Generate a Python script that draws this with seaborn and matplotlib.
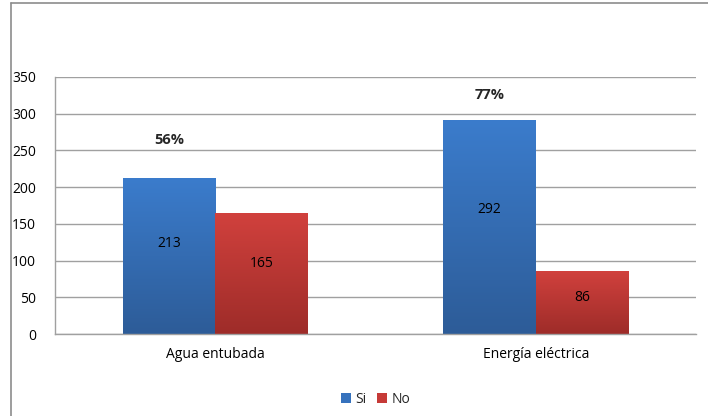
import numpy as np
import pandas as pd
import seaborn as sns
import matplotlib.pyplot as plt
from matplotlib.lines import Line2D
from matplotlib.colors import LinearSegmentedColormap

# -------- Data -------- #
servicios = ["Agua entubada", "Energía eléctrica"]
respuestas = ["Si", "No"]
si_values = [213, 292]
no_values = [165, 86]
porcentajes = ["56%", "77%"]
y_ticks = [0, 50, 100, 150, 200, 250, 300, 350]

df = pd.DataFrame({
    "servicio": servicios * 2,
    "respuesta": ["Si"] * len(servicios) + ["No"] * len(servicios),
    "viviendas": si_values + no_values,
})

# -------- Plot -------- #
sns.set_theme(style="white")
plt.rcParams["font.family"] = ["Open Sans", "DejaVu Sans"]

fig = plt.figure(figsize=(7.08, 4.16), dpi=100)
ax = fig.add_axes([0.078, 0.197, 0.905, 0.618])

colors = {"Si": "#3672BD", "No": "#C63A37"}
sns.barplot(data=df, x="servicio", y="viviendas", hue="respuesta",
            hue_order=respuestas, palette=colors, width=0.58,
            saturation=1, linewidth=0, ax=ax, legend=True)

ax.set_ylim(0, 350)
ax.set_xlim(-0.5, 1.5)
ax.set_yticks(y_ticks)
ax.yaxis.grid(True, color="#A0A0A0", linewidth=1)
ax.set_axisbelow(True)
ax.set_xlabel("")
ax.set_ylabel("")
ax.tick_params(axis="both", length=0, labelsize=10, colors="black")
ax.tick_params(axis="y", pad=14)
ax.tick_params(axis="x", pad=9)
for side in ["top", "right"]:
    ax.spines[side].set_visible(False)
for side in ["left", "bottom"]:
    ax.spines[side].set_color("#A0A0A0")
    ax.spines[side].set_linewidth(1)

# vertical gradient fill, lighter at the top like the original
gradients = [("#3B7CCC", "#2D5C98"), ("#D1413D", "#9E2C29")]
for container, (top, bottom) in zip(ax.containers, gradients):
    cmap = LinearSegmentedColormap.from_list("g", [bottom, top])
    for bar in container:
        x0, w, h = bar.get_x(), bar.get_width(), bar.get_height()
        im = ax.imshow(np.linspace(0, 1, 100).reshape(-1, 1), cmap=cmap,
                       origin="lower", aspect="auto",
                       extent=(x0, x0 + w, 0, h), zorder=bar.get_zorder() + 0.1)
        im.set_clip_path(bar)
ax.set_xlim(-0.5, 1.5)
ax.set_ylim(0, 350)

# value labels in the middle of each bar
for container in ax.containers:
    for bar in container:
        h = bar.get_height()
        ax.text(bar.get_x() + bar.get_width() / 2, h * 0.58, f"{h:.0f}",
                ha="center", va="center", fontsize=10, color="black", zorder=5)

# percentage labels above the "Si" bars
for bar, pct in zip(ax.containers[0], porcentajes):
    ax.annotate(pct, (bar.get_x() + bar.get_width() / 2, bar.get_height()),
                xytext=(0, 22 if bar.get_height() < 250 else 13),
                textcoords="offset points", ha="center", va="bottom",
                fontsize=10.5, fontweight="bold")

ax.legend(loc="upper center", bbox_to_anchor=(0.5, -0.175), ncol=2,
          frameon=False, fontsize=10, handlelength=0.7, handleheight=0.7,
          handletextpad=0.3, columnspacing=0.8)

# outer frame lines (top and left) of the original chart area
fig.add_artist(Line2D([0.0155, 1.0], [0.993, 0.993], color="#8C8C8C", linewidth=1.2))
fig.add_artist(Line2D([0.0155, 0.0155], [0.0, 0.993], color="#8C8C8C", linewidth=1.2))

fig.savefig("out.png", dpi=100)
